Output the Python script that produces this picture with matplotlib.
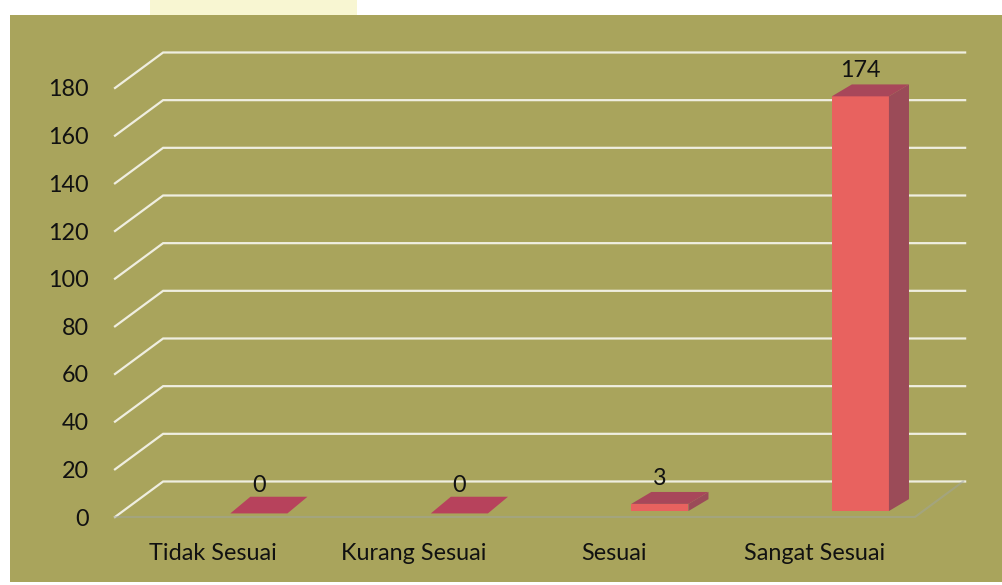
import matplotlib.pyplot as plt
from matplotlib.patches import Rectangle

categories = ['Tidak Sesuai', 'Kurang Sesuai', 'Sesuai', 'Sangat Sesuai']
counts = [0, 0, 3, 174]
y_ticks = [0, 20, 40, 60, 80, 100, 120, 140, 160, 180]

plt.rcParams['font.family'] = ['Lato', 'DejaVu Sans']

W, H = 1003, 585
fig = plt.figure(figsize=(W / 100, H / 100), dpi=100)
fig.patch.set_facecolor('white')

# olive chart panel and the clipped yellow title box above it
fig.patches.append(Rectangle((10 / W, 3 / H), 1 - 10 / W, (H - 18) / H,
                             transform=fig.transFigure, facecolor='#a9a45c',
                             edgecolor='none', zorder=-10))
fig.patches.append(Rectangle((150 / W, (H - 15) / H), 207 / W, 15 / H,
                             transform=fig.transFigure, facecolor='#f8f6d2',
                             edgecolor='none', zorder=-10))

# front plane of the 3d box: x from -0.49 to 3.5, y from 0 to 180
ax = fig.add_axes([115 / W, 68 / H, 800 / W, 429 / H])
ax.set_xlim(-0.49, 3.5)
ax.set_ylim(0, 180)
ax.patch.set_visible(False)
for s in ax.spines.values():
    s.set_visible(False)

# depth of the wall (data units) and of each bar
wall_dx, wall_dy = 0.24, 14.9
bar_dx, bar_dy = 0.10, 5.0
bar_off, bar_w, base = 0.085, 0.285, 2.5
x_right = 3.75

grid_col = '#efeee0'
for v in y_ticks:
    x0 = -0.49
    ax.plot([x0, x0 + wall_dx, x_right], [v, v + wall_dy, v + wall_dy],
            color=grid_col, lw=1.6, clip_on=False, zorder=1,
            solid_joinstyle='miter')

# floor edges
ax.plot([-0.49, 3.5, 3.5 + wall_dx], [0, 0, wall_dy], color='#9fa4a0',
        lw=1.5, alpha=0.5, clip_on=False, zorder=1)

front_col = '#e8625f'
side_col = '#9b4b58'
top_col = '#a8475a'

for i, v in enumerate(counts):
    x0 = i + bar_off
    x1 = x0 + bar_w
    y0 = base
    y1 = base + v
    if v > 0:
        ax.fill([x0, x1, x1, x0], [y0, y0, y1, y1], color=front_col,
                clip_on=False, zorder=3, lw=0)
        ax.fill([x1, x1 + bar_dx, x1 + bar_dx, x1],
                [y0, y0 + bar_dy, y1 + bar_dy, y1], color=side_col,
                clip_on=False, zorder=3, lw=0)
        ax.fill([x0, x1, x1 + bar_dx, x0 + bar_dx],
                [y1, y1, y1 + bar_dy, y1 + bar_dy], color=top_col,
                clip_on=False, zorder=3, lw=0)
    else:
        # empty category: only the flat lid shows
        ax.fill([x0, x1, x1 + bar_dx, x0 + bar_dx],
                [y1 - 1, y1 - 1, y1 + bar_dy + 1, y1 + bar_dy + 1],
                color='#b7425c', clip_on=False, zorder=3, lw=0)
    ax.annotate(str(v), (x0 + bar_w / 2, y1 + bar_dy), xytext=(0, 10),
                textcoords='offset points', ha='center', va='center',
                fontsize=16.8, color='#111111', zorder=4,
                annotation_clip=False)

ax.set_yticks(y_ticks)
ax.set_yticklabels([str(t) for t in y_ticks])
ax.set_xticks(range(len(categories)))
ax.set_xticklabels(categories)
ax.tick_params(axis='y', length=0, pad=19, labelsize=16.8, labelcolor='#111111')
ax.tick_params(axis='x', length=0, pad=19, labelsize=16.8, labelcolor='#111111')

fig.savefig('out.png', dpi=100)
